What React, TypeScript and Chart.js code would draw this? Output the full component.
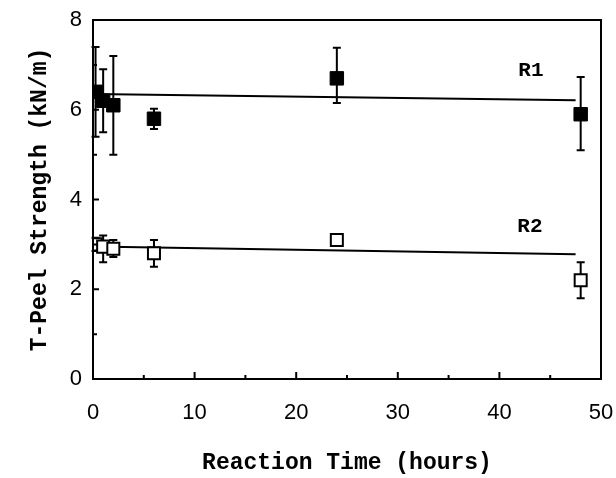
import { useEffect, useRef } from "react";
import { Chart, registerables } from "chart.js";

Chart.register(...registerables);

// Reaction time (hours) and T-peel strength (kN/m) with error bar limits
const hoursR1 = [0.25, 1, 2, 6, 24, 48];
const strengthR1 = [6.4, 6.2, 6.1, 5.8, 6.7, 5.9];
const lowR1 = [5.4, 5.5, 5.0, 5.57, 6.15, 5.1];
const highR1 = [7.4, 6.9, 7.2, 6.02, 7.38, 6.73];

const hoursR2 = [0.25, 1, 2, 6, 24, 48];
const strengthR2 = [3.0, 2.95, 2.9, 2.8, 3.1, 2.2];
const lowR2 = [2.85, 2.6, 2.72, 2.5, 3.05, 1.8];
const highR2 = [3.15, 3.2, 3.1, 3.1, 3.15, 2.6];

// Linear fits (endpoints)
const fitHours = [0, 47.5];
const fitR1 = [6.35, 6.21];
const fitR2 = [2.95, 2.78];

// Series labels and their anchor (hours, kN/m)
const seriesNames = ["R1", "R2"];
const labelHours = [43.1, 43.0];
const labelStrength = [6.88, 3.4];

const xTicks = [0, 10, 20, 30, 40, 50];
const yTicks = [0, 2, 4, 6, 8];

const monoBold = { family: "'Liberation Mono', 'DejaVu Sans Mono', monospace", size: 23, weight: "bold" as const };
const tickFont = { family: "'Liberation Sans', Arial, sans-serif", size: 22 };

const pts = (xs: number[], ys: number[]) => xs.map((x, i) => ({ x, y: ys[i] }));

const errorBarPlugin = {
  id: "errorBars",
  beforeDatasetsDraw(chart: any) {
    const { ctx, scales } = chart;
    const xs = scales.x;
    const ys = scales.y;
    const sets = [
      { h: hoursR1, lo: lowR1, hi: highR1 },
      { h: hoursR2, lo: lowR2, hi: highR2 },
    ];
    ctx.save();
    ctx.strokeStyle = "#000";
    ctx.lineWidth = 2;
    const cap = 4;
    sets.forEach((s) => {
      s.h.forEach((h, i) => {
        const px = xs.getPixelForValue(h);
        const y1 = ys.getPixelForValue(s.lo[i]);
        const y2 = ys.getPixelForValue(s.hi[i]);
        ctx.beginPath();
        ctx.moveTo(px, y1);
        ctx.lineTo(px, y2);
        ctx.moveTo(px - cap, y1);
        ctx.lineTo(px + cap, y1);
        ctx.moveTo(px - cap, y2);
        ctx.lineTo(px + cap, y2);
        ctx.stroke();
      });
    });
    ctx.restore();
  },
};

const framePlugin = {
  id: "frameAndTicks",
  afterDraw(chart: any) {
    const { ctx, chartArea, scales } = chart;
    const { left, right, top, bottom } = chartArea;
    ctx.save();
    ctx.strokeStyle = "#000";
    ctx.lineWidth = 2;
    ctx.strokeRect(left, top, right - left, bottom - top);
    ctx.beginPath();
    for (let v = 5; v < 50; v += 5) {
      const px = scales.x.getPixelForValue(v);
      const len = v % 10 === 0 ? 7 : 4;
      ctx.moveTo(px, bottom);
      ctx.lineTo(px, bottom - len);
    }
    for (let v = 1; v < 8; v += 1) {
      const py = scales.y.getPixelForValue(v);
      const len = v % 2 === 0 ? 6 : 4;
      ctx.moveTo(left, py);
      ctx.lineTo(left + len, py);
    }
    ctx.stroke();

    ctx.fillStyle = "#000";
    ctx.font = `bold 21px ${monoBold.family}`;
    ctx.textAlign = "center";
    ctx.textBaseline = "middle";
    seriesNames.forEach((name, i) => {
      ctx.fillText(name, scales.x.getPixelForValue(labelHours[i]), scales.y.getPixelForValue(labelStrength[i]));
    });
    ctx.restore();
  },
};

export default function App() {
  const canvasRef = useRef<HTMLCanvasElement | null>(null);

  useEffect(() => {
    document.body.style.margin = "0";
    const canvas = canvasRef.current;
    if (!canvas) return;
    const chart = new Chart(canvas, {
      type: "scatter",
      data: {
        datasets: [
          {
            label: "R1 fit",
            data: pts(fitHours, fitR1),
            showLine: true,
            borderColor: "#000",
            borderWidth: 2,
            pointRadius: 0,
            order: 3,
          },
          {
            label: "R2 fit",
            data: pts(fitHours, fitR2),
            showLine: true,
            borderColor: "#000",
            borderWidth: 2,
            pointRadius: 0,
            order: 3,
          },
          {
            label: "R1",
            data: pts(hoursR1, strengthR1),
            pointStyle: "rect",
            pointRadius: 9.5,
            backgroundColor: "#000",
            borderColor: "#000",
            borderWidth: 1,
            order: 1,
          },
          {
            label: "R2",
            data: pts(hoursR2, strengthR2),
            pointStyle: "rect",
            pointRadius: 8.5,
            backgroundColor: "#fff",
            borderColor: "#000",
            borderWidth: 2,
            order: 1,
          },
        ],
      },
      options: {
        animation: false,
        responsive: false,
        maintainAspectRatio: false,
        layout: { padding: { left: 0, right: 15, top: 20, bottom: 0 } },
        plugins: { legend: { display: false }, tooltip: { enabled: false } },
        scales: {
          x: {
            type: "linear",
            min: 0,
            max: 50,
            grid: { display: false, drawTicks: true, tickLength: 21 },
            border: { display: false },
            afterBuildTicks: (s: any) => {
              s.ticks = xTicks.map((v) => ({ value: v }));
            },
            ticks: { padding: 0, color: "#000", font: tickFont, maxRotation: 0 },
            title: {
              display: true,
              text: "Reaction Time (hours)",
              color: "#000",
              font: monoBold,
              padding: { top: 0, bottom: 1 },
            },
            afterFit: (s: any) => {
              s.height = 99;
            },
          },
          y: {
            type: "linear",
            min: 0,
            max: 8,
            grid: { display: false, drawTicks: true, tickLength: 11 },
            border: { display: false },
            afterBuildTicks: (s: any) => {
              s.ticks = yTicks.map((v) => ({ value: v }));
            },
            ticks: { padding: 0, color: "#000", font: tickFont },
            title: {
              display: true,
              text: "T-Peel Strength (kN/m)",
              color: "#000",
              font: monoBold,
              padding: { top: 26, bottom: 0 },
            },
            afterFit: (s: any) => {
              s.width = 93;
            },
          },
        },
      },
      plugins: [errorBarPlugin, framePlugin],
    });
    return () => chart.destroy();
  }, []);

  return (
    <div style={{ width: 616, height: 478, background: "#fff" }}>
      <canvas ref={canvasRef} width={616} height={478} style={{ display: "block" }} />
    </div>
  );
}
